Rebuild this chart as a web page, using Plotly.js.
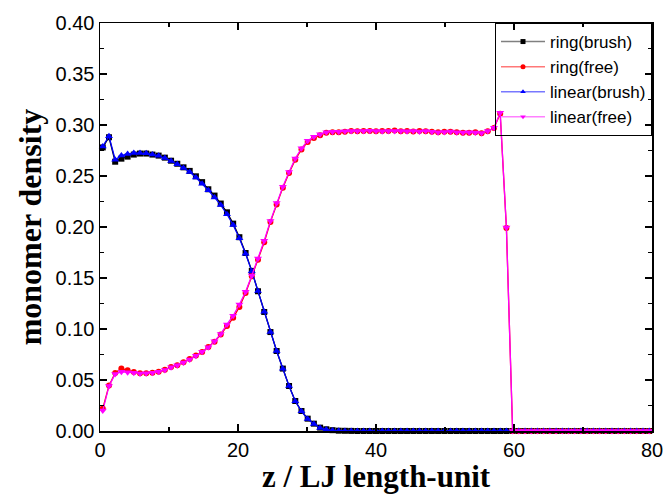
<!DOCTYPE html>
<html>
<head>
<meta charset="utf-8">
<script src="https://cdn.plot.ly/plotly-3.0.1.min.js"></script>
<style>html,body{margin:0;padding:0;background:#fff;}#chart{width:664px;height:494px;}</style>
</head>
<body>
<div id="chart"></div>
<script>
// z positions (LJ length units)
var z = [0.4,1.3,2.2,3.1,4.0,4.9,5.8,6.7,7.6,8.5,9.4,10.3,11.2,12.1,13.0,13.9,14.8,15.7,16.6,17.5,
18.4,19.3,20.2,21.1,22.0,22.9,23.8,24.7,25.6,26.5,27.4,28.3,29.2,30.1,31.0,31.9,32.8,33.7,34.6,35.5,
36.4,37.3,38.2,39.1,40.0,40.9,41.8,42.7,43.6,44.5,45.4,46.3,47.2,48.1,49.0,49.9,50.8,51.7,52.6,53.5,
54.4,55.3,56.2,57.1,58.0,58.9,59.8,60.7,61.6,62.5,63.4,64.3,65.2,66.1,67.0,67.9,68.8,69.7,70.6,71.5,
72.4,73.3,74.2,75.1,76.0,76.9,77.8,78.7,79.6];

var ringBrush = [0.278,0.288,0.264,0.267,0.269,0.271,0.272,0.272,0.271,0.270,
0.268,0.265,0.262,0.2585,0.255,0.2497,0.244,0.237,0.2308,0.223,
0.2144,0.2033,0.190,0.1745,0.157,0.137,0.1167,0.097,0.0784,0.0612,
0.0441,0.0294,0.0196,0.0121,0.0072,0.0033,0.0017,0.0008,0.0003,0.0002,
0.0001,0,0,0,0,0,0,0,0,0,
0,0,0,0,0,0,0,0,0,0,
0,0,0,0,0,0,0,0,0,0,
0,0,0,0,0,0,0,0,0,0,
0,0,0,0,0,0,0,0,0];

var ringFree = [0.022,0.0445,0.0569,0.0612,0.0595,0.0579,0.0566,0.0566,0.0572,0.0582,
0.0600,0.0628,0.0644,0.0673,0.0706,0.0739,0.0775,0.0824,0.0876,0.0945,
0.1030,0.1110,0.1216,0.1353,0.1517,0.1680,0.1850,0.2050,0.2220,0.2386,
0.2530,0.2660,0.2760,0.2834,0.2873,0.2900,0.2925,0.2930,0.2930,0.2935,
0.2940,0.2938,0.2942,0.2940,0.2938,0.2942,0.2940,0.2945,0.2938,0.2940,
0.2936,0.2940,0.2938,0.2935,0.2928,0.2935,0.2935,0.2930,0.2925,0.2925,
0.2930,0.2920,0.2938,0.2970,0.3110,0.1990,0,0,0,0,
0,0,0,0,0,0,0,0,0,0,
0,0,0,0,0,0,0,0,0];

var linearBrush = [0.279,0.289,0.266,0.270,0.2716,0.2725,0.2725,0.2722,0.2712,0.2698,
0.2676,0.2648,0.2615,0.2578,0.2540,0.2485,0.2425,0.2360,0.2290,0.2215,
0.2125,0.2020,0.1890,0.1738,0.1565,0.1372,0.1168,0.0970,0.0785,0.0610,
0.0440,0.0292,0.0193,0.0118,0.0068,0.0030,0.0014,0.0006,0.0002,0,
0,0,0,0,0,0,0,0,0,0,
0,0,0,0,0,0,0,0,0,0,
0,0,0,0,0,0,0,0,0,0,
0,0,0,0,0,0,0,0,0,0,
0,0,0,0,0,0,0,0,0];

var linearFree = [0.020,0.0440,0.0560,0.0580,0.0575,0.0570,0.0563,0.0565,0.0570,0.0580,
0.0598,0.0625,0.0645,0.0672,0.0702,0.0738,0.0778,0.0820,0.0880,0.0952,
0.1045,0.1130,0.1240,0.1365,0.1525,0.1690,0.1865,0.2060,0.2235,0.2395,
0.2540,0.2672,0.2772,0.2845,0.2885,0.2910,0.2930,0.2935,0.2935,0.2938,
0.2942,0.2940,0.2940,0.2944,0.2940,0.2938,0.2942,0.2940,0.2942,0.2938,
0.2940,0.2936,0.2940,0.2934,0.2930,0.2932,0.2936,0.2928,0.2926,0.2928,
0.2926,0.2922,0.2940,0.2972,0.3120,0.1995,0,0,0,0,
0,0,0,0,0,0,0,0,0,0,
0,0,0,0,0,0,0,0,0];

var names = ['ring(brush)','ring(free)','linear(brush)','linear(free)'];
var xTicks = [0,20,40,60,80];
var yTicks = [0.00,0.05,0.10,0.15,0.20,0.25,0.30,0.35,0.40];

var series = [ringBrush, ringFree, linearBrush, linearFree];
var colors = ['#000000','#FF0000','#0000FF','#FF00FF'];
var legendLine = ['#808080','#FF7878','#7878FF','#FF80FF'];
var symbols = ['square','circle','triangle-up','triangle-down'];
var sizes = [6,6,7,7];

var traces = [];
for (var i=0;i<4;i++){
  traces.push({
    x: z, y: series[i], type:'scatter', mode:'lines+markers',
    name: names[i], showlegend:false, cliponaxis:false,
    line:{color:colors[i], width:1.3},
    marker:{symbol:symbols[i], size:sizes[i], color:colors[i], line:{width:0}}
  });
}
for (var j=0;j<4;j++){
  traces.push({
    x:[null], y:[null], type:'scatter', mode:'lines+markers',
    name:names[j], showlegend:true,
    line:{color:legendLine[j], width:1.5},
    marker:{symbol:symbols[j], size:5, color:colors[j], line:{width:0}}
  });
}

var tickFont = {family:'Liberation Sans, Arial, sans-serif', size:20, color:'#000'};
var titleFont = {family:'Liberation Serif, Times New Roman, serif', size:32, color:'#000', weight:700};
var xTitleFont = {family:'Liberation Serif, Times New Roman, serif', size:31, color:'#000', weight:700};

var layout = {
  width:664, height:494,
  margin:{l:100, r:12, t:23, b:63},
  paper_bgcolor:'#fff', plot_bgcolor:'#fff',
  xaxis:{
    range:[0,80], tickvals:xTicks, ticktext:xTicks.map(String),
    showgrid:false, zeroline:false, showline:true, linecolor:'#000', linewidth:1.5,
    mirror:'ticks', ticks:'inside', ticklen:7, tickwidth:1.5, tickcolor:'#000',
    minor:{dtick:10, tick0:0, ticks:'inside', ticklen:4, tickwidth:1.5, tickcolor:'#000', showgrid:false},
    tickfont:tickFont,
    title:{text:'z / LJ length-unit', font:xTitleFont, standoff:8}
  },
  yaxis:{
    range:[0,0.40], tickvals:yTicks, ticktext:yTicks.map(function(v){return v.toFixed(2);}),
    showgrid:false, zeroline:false, showline:true, linecolor:'#000', linewidth:1.5,
    mirror:'ticks', ticks:'inside', ticklen:7, tickwidth:1.5, tickcolor:'#000',
    minor:{dtick:0.025, tick0:0, ticks:'inside', ticklen:4, tickwidth:1.5, tickcolor:'#000', showgrid:false},
    tickfont:tickFont,
    title:{text:'monomer density', font:titleFont, standoff:4}
  },
  legend:{
    x:1, xanchor:'right', y:1, yanchor:'top',
    bgcolor:'rgba(255,255,255,0)', bordercolor:'#000', borderwidth:1,
    font:{family:'Liberation Sans, Arial, sans-serif', size:17, color:'#000'},
    itemwidth:44, tracegroupgap:0
  },
  showlegend:true
};

Plotly.newPlot('chart', traces, layout, {staticPlot:true, displayModeBar:false});
</script>
</body>
</html>
